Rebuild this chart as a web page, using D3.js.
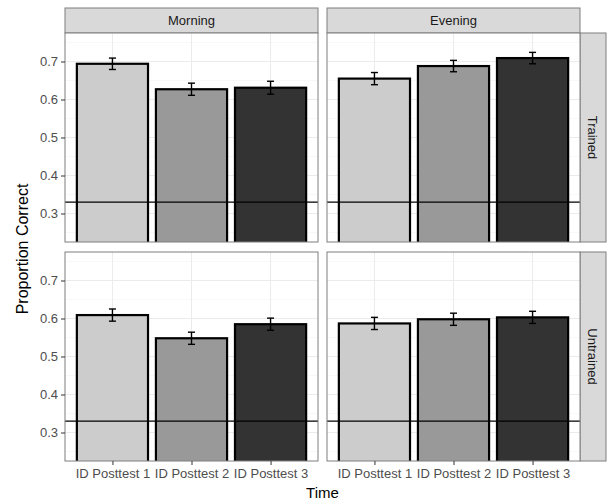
<!DOCTYPE html>
<html>
<head>
<script src="https://d3js.org/d3.v7.min.js"></script>
<style>
  body { margin: 0; background: #fff; }
  text { font-family: "Liberation Sans", Arial, sans-serif; }
  .grid line { stroke: #ebebeb; }
  .minor line { stroke: #f4f4f4; }
  .axis text { fill: #4d4d4d; font-size: 13px; }
  .axis line { stroke: #333; }
  .axis path { display: none; }
</style>
</head>
<body>
<svg id="chart" width="609" height="501"></svg>
<script>
// data
const times = ["ID Posttest 1", "ID Posttest 2", "ID Posttest 3"];
const sessions = ["Morning", "Evening"];
const groups = ["Trained", "Untrained"];
const fills = ["#cccccc", "#999999", "#333333"];
const yTicks = [0.3, 0.4, 0.5, 0.6, 0.7];
const chance = 0.33;

const trainedMorning   = [0.694, 0.627, 0.631];
const trainedEvening   = [0.655, 0.688, 0.709];
const untrainedMorning = [0.609, 0.548, 0.585];
const untrainedEvening = [0.587, 0.598, 0.603];
const seTrainedMorning   = [0.015, 0.016, 0.017];
const seTrainedEvening   = [0.016, 0.015, 0.015];
const seUntrainedMorning = [0.016, 0.016, 0.016];
const seUntrainedEvening = [0.016, 0.016, 0.016];

const panels = [
  {row: 0, col: 0, vals: trainedMorning, se: seTrainedMorning},
  {row: 0, col: 1, vals: trainedEvening, se: seTrainedEvening},
  {row: 1, col: 0, vals: untrainedMorning, se: seUntrainedMorning},
  {row: 1, col: 1, vals: untrainedEvening, se: seUntrainedEvening}
];

const svg = d3.select("#chart");
const colX = [65, 327];
const panelW = 253;
const rowY = [33, 252];
const panelH = 209;
const stripH = 25;
const stripW = 26;

const x = d3.scalePoint().domain(times).range([0, panelW]).padding(0.6);
const barW = x.step() * 0.9;
const y = d3.scaleLinear().domain([0.225, 0.775]).range([panelH, 0]);
const minorTicks = [0.25, 0.35, 0.45, 0.55, 0.65, 0.75];

// column strips
sessions.forEach((s, i) => {
  svg.append("rect").attr("x", colX[i]).attr("y", rowY[0] - stripH)
    .attr("width", panelW).attr("height", stripH)
    .attr("fill", "#d9d9d9").attr("stroke", "#7f7f7f").attr("stroke-width", 1);
  svg.append("text").attr("x", colX[i] + panelW / 2).attr("y", rowY[0] - stripH / 2)
    .attr("dy", "0.35em").attr("text-anchor", "middle")
    .attr("font-size", 13).attr("fill", "#1a1a1a").text(s);
});

// row strips
groups.forEach((g, j) => {
  const sx = colX[1] + panelW;
  svg.append("rect").attr("x", sx).attr("y", rowY[j])
    .attr("width", stripW).attr("height", panelH)
    .attr("fill", "#d9d9d9").attr("stroke", "#7f7f7f").attr("stroke-width", 1);
  svg.append("text")
    .attr("transform", `translate(${sx + stripW / 2},${rowY[j] + panelH / 2}) rotate(90)`)
    .attr("dy", "0.35em").attr("text-anchor", "middle")
    .attr("font-size", 13).attr("fill", "#1a1a1a").text(g);
});

panels.forEach((p, k) => {
  const g = svg.append("g").attr("transform", `translate(${colX[p.col]},${rowY[p.row]})`);
  const clipId = "clip" + k;
  g.append("clipPath").attr("id", clipId).append("rect")
    .attr("width", panelW).attr("height", panelH);

  g.append("rect").attr("width", panelW).attr("height", panelH).attr("fill", "#fff");

  g.append("g").attr("class", "minor").selectAll("line").data(minorTicks).join("line")
    .attr("x1", 0).attr("x2", panelW).attr("y1", d => y(d)).attr("y2", d => y(d))
    .attr("stroke-width", 0.6);
  g.append("g").attr("class", "grid").selectAll("line").data(yTicks).join("line")
    .attr("x1", 0).attr("x2", panelW).attr("y1", d => y(d)).attr("y2", d => y(d))
    .attr("stroke-width", 1);
  g.append("g").attr("class", "grid").selectAll("line").data(times).join("line")
    .attr("x1", d => x(d)).attr("x2", d => x(d)).attr("y1", 0).attr("y2", panelH)
    .attr("stroke-width", 1);

  const inner = g.append("g").attr("clip-path", `url(#${clipId})`);
  const rows = times.map((t, i) => ({t: t, v: p.vals[i], se: p.se[i], fill: fills[i]}));

  inner.selectAll("rect.bar").data(rows).join("rect").attr("class", "bar")
    .attr("x", d => x(d.t) - barW / 2).attr("width", barW)
    .attr("y", d => y(d.v)).attr("height", d => panelH + 5 - y(d.v))
    .attr("fill", d => d.fill).attr("stroke", "#000").attr("stroke-width", 2.2);

  inner.append("line").attr("x1", 0).attr("x2", panelW)
    .attr("y1", y(chance)).attr("y2", y(chance))
    .attr("stroke", "#000").attr("stroke-width", 1.2);

  const eb = inner.selectAll("g.eb").data(rows).join("g").attr("class", "eb")
    .attr("stroke", "#000").attr("stroke-width", 1.4);
  eb.append("line").attr("x1", d => x(d.t)).attr("x2", d => x(d.t))
    .attr("y1", d => y(d.v + d.se)).attr("y2", d => y(d.v - d.se));
  eb.append("line").attr("x1", d => x(d.t) - 3.5).attr("x2", d => x(d.t) + 3.5)
    .attr("y1", d => y(d.v + d.se)).attr("y2", d => y(d.v + d.se));
  eb.append("line").attr("x1", d => x(d.t) - 3.5).attr("x2", d => x(d.t) + 3.5)
    .attr("y1", d => y(d.v - d.se)).attr("y2", d => y(d.v - d.se));

  g.append("rect").attr("width", panelW).attr("height", panelH)
    .attr("fill", "none").attr("stroke", "#7f7f7f").attr("stroke-width", 1);

  if (p.col === 0) {
    g.append("g").attr("class", "axis")
      .call(d3.axisLeft(y).tickValues(yTicks).tickSize(4).tickPadding(3).tickFormat(d3.format(".1f")));
  }
  if (p.row === 1) {
    g.append("g").attr("class", "axis").attr("transform", `translate(0,${panelH})`)
      .call(d3.axisBottom(x).tickSize(4).tickPadding(4));
  }
});

// axis titles
svg.append("text").attr("x", colX[0] + (colX[1] + panelW - colX[0]) / 2).attr("y", 498)
  .attr("text-anchor", "middle").attr("font-size", 15).attr("fill", "#000").text("Time");
svg.append("text")
  .attr("transform", `translate(28,${(rowY[0] + rowY[1] + panelH) / 2 + 2}) rotate(-90)`)
  .attr("text-anchor", "middle").attr("font-size", 16).attr("fill", "#000").text("Proportion Correct");
</script>
</body>
</html>
